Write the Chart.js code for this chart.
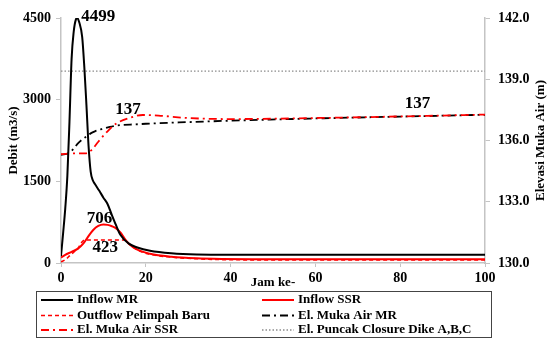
<!DOCTYPE html>
<html>
<head>
<meta charset="utf-8">
<script src="https://cdn.jsdelivr.net/npm/chart.js@4.4.1/dist/chart.umd.min.js"></script>
<style>
  html, body { margin: 0; padding: 0; background: #ffffff; }
  canvas { display: block; }
</style>
</head>
<body>
<canvas id="chart" width="550" height="338" style="width:550px;height:338px"></canvas>
<script>
// Flood routing: discharges (left axis, m3/s) and water levels (right axis, m) per hour
const inflowMRHours = [0, 0.5, 1, 1.5, 2, 2.5, 3, 3.5, 3.85, 4.3, 5, 5.5, 6, 6.5, 7, 7.5, 8, 9, 10, 11, 12, 13, 14, 16, 18, 21, 26, 32, 40, 100];
const inflowMR      = [130, 550, 1000, 1600, 2600, 3750, 4250, 4470, 4499, 4420, 4150, 3600, 2900, 2150, 1680, 1520, 1450, 1330, 1200, 1080, 880, 690, 520, 355, 285, 225, 178, 155, 150, 150];

const inflowSSRHours = [0, 1, 2.5, 4, 5.3, 6.4, 7.6, 8.8, 10, 11, 12, 13, 14, 15, 16, 18, 21, 26, 32, 38, 45, 100];
const inflowSSR      = [100, 150, 205, 265, 360, 485, 606, 680, 706, 700, 675, 635, 560, 450, 355, 245, 170, 116, 86, 74, 70, 68];

const outflowHours = [0, 1, 2, 3, 4, 4.5, 5, 5.7, 15.2, 16, 18, 21, 26, 32, 38, 45, 100];
const outflow      = [20, 60, 130, 200, 265, 330, 390, 423, 423, 355, 240, 160, 108, 78, 62, 58, 55];

const levelMRHours = [0, 2, 3, 4, 5, 6, 7, 8, 9.6, 11.5, 14.3, 17.5, 20, 30, 40, 60, 80, 100];
const levelMR      = [135.3, 135.4, 135.6, 135.86, 136.05, 136.2, 136.35, 136.45, 136.56, 136.67, 136.76, 136.79, 136.82, 136.9, 136.97, 137.08, 137.17, 137.26];

const levelSSRHours = [0, 3.3, 5.7, 7.2, 8.8, 11.2, 13.1, 15.8, 19.3, 23, 30, 40, 60, 85, 100];
const levelSSR      = [135.33, 135.37, 135.37, 135.53, 135.94, 136.5, 136.84, 137.08, 137.25, 137.22, 137.1, 137.05, 137.1, 137.2, 137.27];

const dikeCrestHours = [0, 100];
const dikeCrest      = [139.4, 139.4];

const hourTicks = { min: 0, max: 100, step: 20 };
const debitTicks = { min: 0, max: 4500, step: 1500 };
const levelTicks = { min: 130, max: 142, step: 3 };

const SERIF = "'Liberation Serif', 'Times New Roman', serif";
Chart.defaults.font.family = SERIF;
Chart.defaults.color = '#000';

const pts = (xs, ys) => xs.map((x, i) => ({ x: x, y: ys[i] }));

// Value call-outs: which point of which dataset, and where the text sits relative to it
const callouts = [
  { ds: 0, hour: 3.85, dx: 4,  dy: -1,  align: 'left'   },
  { ds: 1, hour: 10,   dx: -4, dy: -6,  align: 'center' },
  { ds: 2, hour: 5.7,  dx: 20, dy: 8,   align: 'center' },
  { ds: 4, hour: 15.8, dx: 0,  dy: -9,  align: 'center' },
  { ds: 4, hour: 85,   dx: -4, dy: -12, align: 'center' }
];

const calloutPlugin = {
  id: 'callouts',
  afterDatasetsDraw(chart) {
    const ctx = chart.ctx;
    ctx.save();
    ctx.font = 'bold 17px ' + SERIF;
    ctx.fillStyle = '#000';
    ctx.textBaseline = 'middle';
    callouts.forEach(c => {
      const ds = chart.data.datasets[c.ds];
      const idx = ds.data.findIndex(p => p.x === c.hour);
      const el = chart.getDatasetMeta(c.ds).data[idx];
      ctx.textAlign = c.align;
      ctx.fillText(String(Math.round(ds.data[idx].y)), el.x + c.dx, el.y + c.dy);
    });
    ctx.restore();
  }
};

// Right-hand axis title, reading bottom to top like the left one
const rightTitlePlugin = {
  id: 'rightTitle',
  afterDraw(chart) {
    const s = chart.scales.y1;
    const ctx = chart.ctx;
    ctx.save();
    ctx.translate(541, (s.top + s.bottom) / 2);
    ctx.rotate(-Math.PI / 2);
    ctx.font = 'bold 13px ' + SERIF;
    ctx.fillStyle = '#000';
    ctx.textAlign = 'center';
    ctx.textBaseline = 'middle';
    ctx.fillText('Elevasi Muka Air (m)', 0, 0);
    ctx.restore();
  }
};

// Boxed two-column legend under the plot
const boxLegendPlugin = {
  id: 'boxLegend',
  afterDraw(chart) {
    const ctx = chart.ctx;
    const box = { left: 36, top: 291, width: 455, height: 46 };
    const sampleX = [41, 262], sampleW = 32, textX = [77, 298];
    const rowY = [300, 315.5, 330];
    ctx.save();
    ctx.strokeStyle = '#444';
    ctx.lineWidth = 1;
    ctx.strokeRect(box.left + 0.5, box.top + 0.5, box.width, box.height);
    ctx.font = 'bold 13px ' + SERIF;
    ctx.textBaseline = 'middle';
    ctx.textAlign = 'left';
    chart.data.datasets.forEach((ds, i) => {
      const col = i % 2, row = Math.floor(i / 2);
      const y = rowY[row];
      ctx.beginPath();
      ctx.setLineDash(ds.borderDash || []);
      ctx.strokeStyle = ds.borderColor;
      ctx.lineWidth = ds.borderWidth;
      ctx.moveTo(sampleX[col], y);
      ctx.lineTo(sampleX[col] + sampleW, y);
      ctx.stroke();
      ctx.setLineDash([]);
      ctx.fillStyle = '#000';
      ctx.fillText(ds.label, textX[col], y);
    });
    ctx.restore();
  }
};

const common = { pointRadius: 0, fill: false, cubicInterpolationMode: 'monotone' };

new Chart(document.getElementById('chart'), {
  type: 'line',
  data: {
    datasets: [
      Object.assign({ label: 'Inflow MR', data: pts(inflowMRHours, inflowMR), yAxisID: 'y',
        borderColor: '#000000', borderWidth: 2 }, common),
      Object.assign({ label: 'Inflow SSR', data: pts(inflowSSRHours, inflowSSR), yAxisID: 'y',
        borderColor: '#ff0000', borderWidth: 2 }, common),
      Object.assign({ label: 'Outflow Pelimpah Baru', data: pts(outflowHours, outflow), yAxisID: 'y',
        borderColor: '#ff0000', borderWidth: 1.6, borderDash: [4, 3] }, common),
      Object.assign({ label: 'El. Muka Air MR', data: pts(levelMRHours, levelMR), yAxisID: 'y1', order: 1,
        borderColor: '#000000', borderWidth: 1.8, borderDash: [8, 4, 2, 4] }, common),
      Object.assign({ label: 'El. Muka Air SSR', data: pts(levelSSRHours, levelSSR), yAxisID: 'y1',
        borderColor: '#ff0000', borderWidth: 1.8, borderDash: [8, 4, 2, 4] }, common),
      Object.assign({ label: 'El. Puncak Closure Dike A,B,C', data: pts(dikeCrestHours, dikeCrest), yAxisID: 'y1',
        borderColor: '#8c8c8c', borderWidth: 1.3, borderDash: [1.5, 2] }, common)
    ]
  },
  options: {
    responsive: false,
    animation: false,
    layout: { padding: { top: 18, left: 0, right: 0, bottom: 47 } },
    plugins: {
      legend: { display: false },
      tooltip: { enabled: false }
    },
    scales: {
      x: {
        type: 'linear',
        min: hourTicks.min, max: hourTicks.max,
        ticks: { stepSize: hourTicks.step, font: { size: 14, weight: 'bold' }, padding: 3, maxRotation: 0,
          callback: v => String(v) },
        grid: { drawOnChartArea: false, tickLength: 4, color: '#c4c4c4' },
        border: { color: '#c4c4c4', width: 1.5 },
        title: { display: true, text: 'Jam ke-', font: { size: 13, weight: 'bold' }, padding: { top: -14, bottom: 1 } },
        afterFit(scale) { scale.height = 28; }
      },
      y: {
        position: 'left',
        min: debitTicks.min, max: debitTicks.max,
        ticks: { stepSize: debitTicks.step, font: { size: 14, weight: 'bold' }, padding: 5,
          callback: v => String(v) },
        grid: { drawOnChartArea: false, tickLength: 5, color: '#c4c4c4' },
        border: { color: '#c4c4c4', width: 1.5 },
        title: { display: true, text: 'Debit (m3/s)', font: { size: 13, weight: 'bold' }, padding: { top: 6, bottom: 0 } },
        afterFit(scale) { scale.width = 61; }
      },
      y1: {
        position: 'right',
        min: levelTicks.min, max: levelTicks.max,
        ticks: { stepSize: levelTicks.step, font: { size: 14, weight: 'bold' }, padding: 8,
          callback: v => Number(v).toFixed(1) },
        grid: { drawOnChartArea: false, tickLength: 5, color: '#c4c4c4' },
        border: { color: '#c4c4c4', width: 1.5 },
        afterFit(scale) { scale.width = 65; }
      }
    }
  },
  plugins: [calloutPlugin, rightTitlePlugin, boxLegendPlugin]
});
</script>
</body>
</html>
